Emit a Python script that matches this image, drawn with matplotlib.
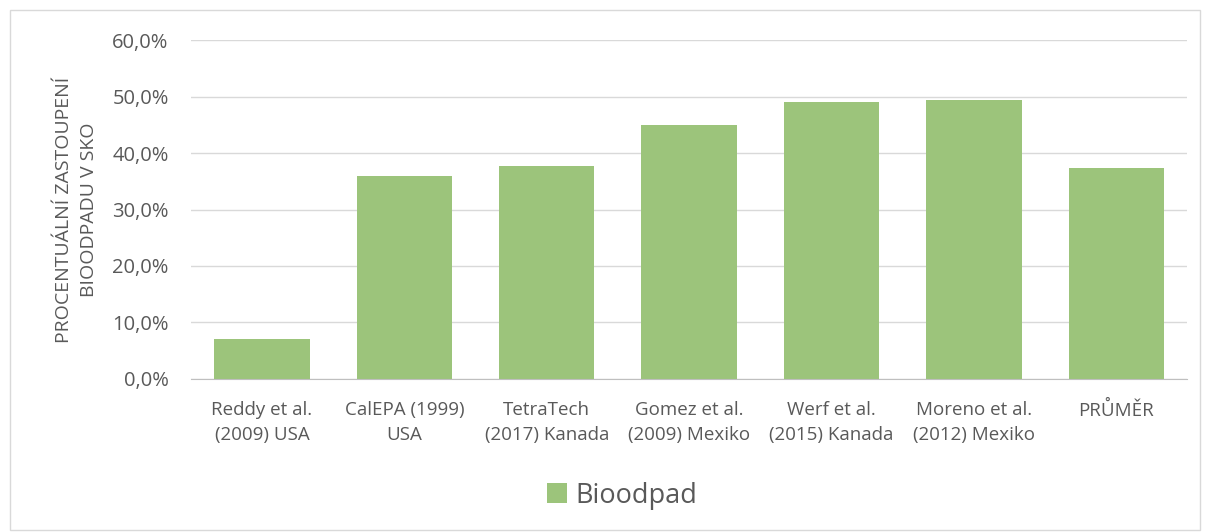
import matplotlib.pyplot as plt
from matplotlib.patches import Rectangle
from matplotlib.ticker import FuncFormatter

# data
categories = ["Reddy et al.\n(2009) USA", "CalEPA (1999)\nUSA", "TetraTech\n(2017) Kanada",
              "Gomez et al.\n(2009) Mexiko", "Werf et al.\n(2015) Kanada",
              "Moreno et al.\n(2012) Mexiko", "PRŮMĚR"]
bioodpad = [7.0, 35.9, 37.7, 45.0, 49.0, 49.4, 37.3]

plt.rcParams['font.family'] = ['Open Sans', 'DejaVu Sans']
txt = '#595959'

fig = plt.figure(figsize=(12.08, 5.32), dpi=100)
ax = fig.add_axes([0.158, 0.2876, 0.825, 0.6372])

# outer chart frame
fig.patches.append(Rectangle((10 / 1208, 2 / 532), 1190 / 1208, 520 / 532,
                             transform=fig.transFigure, fill=False,
                             edgecolor='#d9d9d9', linewidth=1))

x = range(len(categories))
ax.bar(x, bioodpad, width=0.67, color='#9cc47b', label='Bioodpad', zorder=3)

ax.set_xlim(-0.5, len(categories) - 0.5)
ax.set_ylim(0, 60)
ax.set_yticks(range(0, 61, 10))
ax.yaxis.set_major_formatter(FuncFormatter(lambda v, p: f"{v:.1f}%".replace('.', ',')))
ax.set_xticks(list(x))
ax.set_xticklabels(categories, fontsize=13.5, color=txt, linespacing=1.5)
ax.tick_params(axis='y', labelsize=14.5, colors=txt, length=0, pad=16)
ax.tick_params(axis='x', length=0, pad=16)

ax.grid(axis='y', color='#d9d9d9', linewidth=1, zorder=0)
for s in ['top', 'right', 'left']:
    ax.spines[s].set_visible(False)
ax.spines['bottom'].set_color('#bfbfbf')
ax.spines['bottom'].set_zorder(4)

ax.set_ylabel("PROCENTUÁLNÍ ZASTOUPENÍ\nBIOODPADU V SKO", fontsize=14, color=txt,
              labelpad=10, linespacing=1.5)

leg = fig.legend(loc='center', bbox_to_anchor=(0.515, 0.068), frameon=False,
                 fontsize=19.5, handlelength=0.75, handleheight=0.75, handletextpad=0.3,
                 labelcolor=txt)

fig.savefig('out.png', dpi=100)
